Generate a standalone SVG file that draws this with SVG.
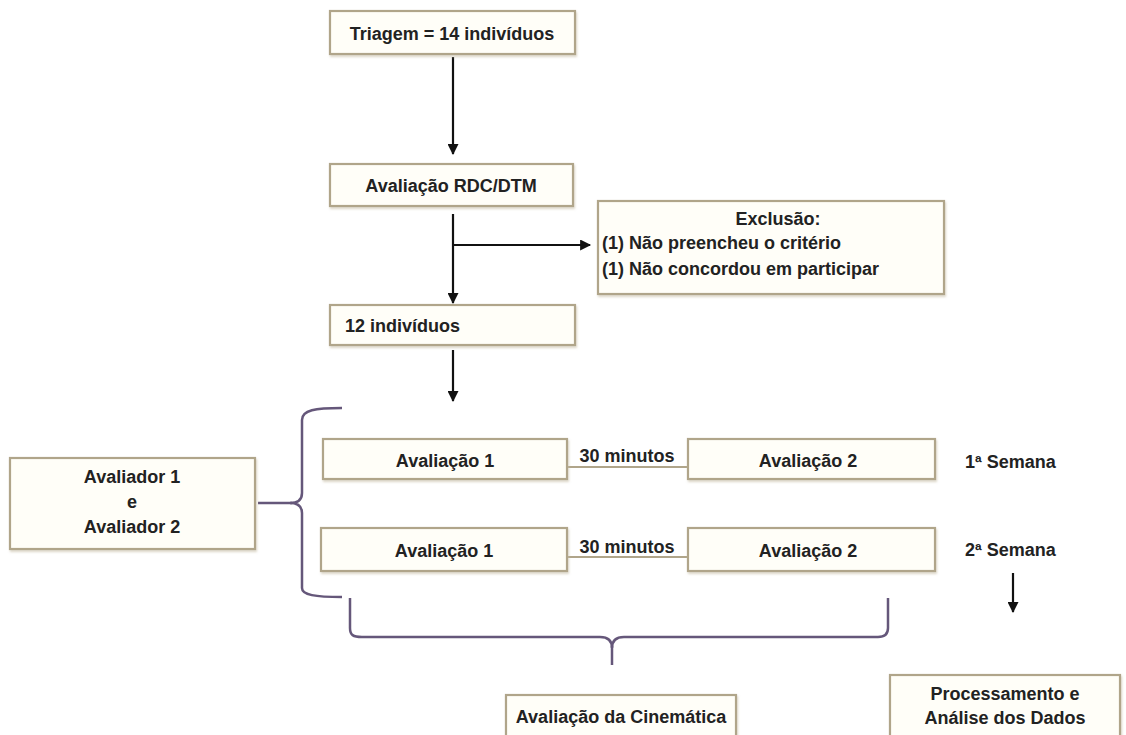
<svg xmlns="http://www.w3.org/2000/svg" width="1126" height="735" viewBox="0 0 1126 735">
<defs>
<marker id="ah" viewBox="0 0 10 10" refX="9" refY="5" markerWidth="12" markerHeight="11" markerUnits="userSpaceOnUse" orient="auto">
<path d="M0,0 L10,5 L0,10 z" fill="#111"/>
</marker>
<filter id="sh" x="-5%" y="-10%" width="110%" height="130%">
<feDropShadow dx="1" dy="2" stdDeviation="1.2" flood-color="#c8bfa8" flood-opacity="0.6"/>
</filter>
</defs>
<style>
.box{fill:#fffef8;stroke:#b0a58a;stroke-width:2.2;filter:url(#sh)}
.t{font-family:"Liberation Sans",Arial,sans-serif;font-weight:bold;font-size:18px;fill:#222}
.m{text-anchor:middle}
.arr{stroke:#111;stroke-width:2.2;fill:none;marker-end:url(#ah)}
.br{stroke:#65577a;stroke-width:2.5;fill:none}
.lk{stroke:#b0a58a;stroke-width:2;fill:none}
</style>
<rect width="1126" height="735" fill="#fff"/>
<g id="connectors">
<line class="arr" x1="453" y1="57" x2="453" y2="154"/>
<line class="arr" x1="453" y1="214" x2="453" y2="303"/>
<line class="arr" x1="453" y1="245" x2="590" y2="245"/>
<line class="arr" x1="453" y1="350" x2="453" y2="401"/>
<line class="lk" x1="567" y1="467" x2="688" y2="467"/>
<line class="lk" x1="567" y1="557" x2="688" y2="557"/>
<line class="arr" x1="1013" y1="573" x2="1013" y2="612"/>
<path class="br" d="M342,408 C315,408 302,410 302,420 L302,493 C302,500 298,503 290,503 C298,503 302,506 302,513 L302,588 C302,595 315,597 342,597"/>
<line class="br" x1="258" y1="503" x2="292" y2="503"/>
<path class="br" d="M350,598 L350,628 C350,635 353,637 362,637 L600,637 C607,637 612,640 612,648 C612,640 617,637 624,637 L878,637 C885,637 888,634 888,628 L888,598"/>
<line class="br" x1="612" y1="646" x2="612" y2="665"/>
</g>
<g id="triagem">
<rect class="box" x="330" y="11" width="245" height="43"/>
<text class="t m" x="452" y="40">Triagem = 14 indivíduos</text>
</g>
<g id="rdc">
<rect class="box" x="330" y="164" width="243" height="42"/>
<text class="t m" x="451" y="192">Avaliação RDC/DTM</text>
</g>
<g id="exclusao">
<rect class="box" x="598" y="201" width="346" height="93"/>
<text class="t m" x="778" y="225">Exclusão:</text>
<text class="t" x="602" y="249">(1) Não preencheu o critério</text>
<text class="t" x="602" y="275">(1) Não concordou em participar</text>
</g>
<g id="doze">
<rect class="box" x="330" y="305" width="245" height="40"/>
<text class="t" x="345" y="332">12 indivíduos</text>
</g>
<g id="av1a">
<rect class="box" x="323" y="439" width="244" height="40"/>
<text class="t m" x="445" y="467">Avaliação 1</text>
</g>
<g id="min1">
<text class="t m" x="627" y="462">30 minutos</text>
</g>
<g id="av2a">
<rect class="box" x="688" y="439" width="247" height="40"/>
<text class="t m" x="808" y="467">Avaliação 2</text>
</g>
<g id="sem1">
<text class="t" x="965" y="468">1ª Semana</text>
</g>
<g id="av1b">
<rect class="box" x="321" y="528" width="246" height="43"/>
<text class="t m" x="444" y="557">Avaliação 1</text>
</g>
<g id="min2">
<text class="t m" x="627" y="553">30 minutos</text>
</g>
<g id="av2b">
<rect class="box" x="688" y="528" width="247" height="43"/>
<text class="t m" x="808" y="557">Avaliação 2</text>
</g>
<g id="sem2">
<text class="t" x="965" y="556">2ª Semana</text>
</g>
<g id="avaliadores">
<rect class="box" x="10" y="458" width="245" height="91"/>
<text class="t m" x="132" y="483">Avaliador 1</text>
<text class="t m" x="132" y="508">e</text>
<text class="t m" x="132" y="533">Avaliador 2</text>
</g>
<g id="cinematica">
<rect class="box" x="506" y="695" width="230" height="45"/>
<text class="t m" x="621" y="723">Avaliação da Cinemática</text>
</g>
<g id="processamento">
<rect class="box" x="890" y="675" width="230" height="65"/>
<text class="t m" x="1005" y="700">Processamento e</text>
<text class="t m" x="1005" y="724">Análise dos Dados</text>
</g>
</svg>
